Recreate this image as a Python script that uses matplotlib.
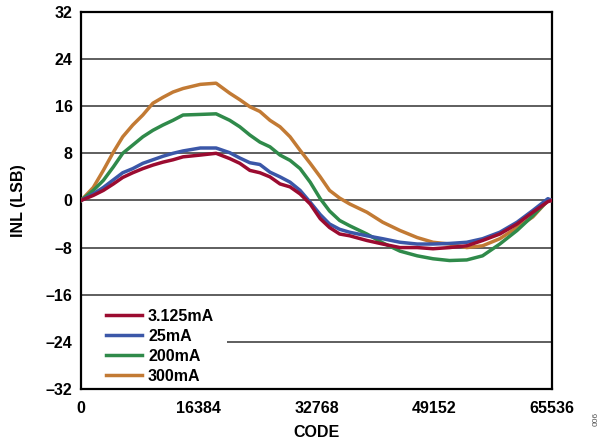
#!/usr/bin/env python3
"""INL 与 CODE 的关系曲线（四种满量程电流）。"""

import matplotlib

matplotlib.use("Agg")
import matplotlib.pyplot as plt
from matplotlib.patches import Rectangle

# 横轴采样点（CODE）
code = [0, 1700, 3100, 4500, 5800, 7200, 8600, 10000, 11400, 12800,
        14200, 16600, 18800, 20700, 22100, 23500, 24900, 26300, 27700,
        29100, 30500, 31900, 33300, 34600, 36000, 37400, 39800, 42000,
        44400, 46800, 49000, 51300, 53700, 55900, 58300, 60700, 62900,
        65000, 65535]

# 各电流下的 INL (LSB)
inl_3125 = [0, 0.85, 1.7, 2.8, 3.9, 4.7, 5.4, 6.0, 6.5, 6.9,
            7.4, 7.7, 8.0, 7.1, 6.3, 5.1, 4.7, 4.0, 2.8,
            2.3, 1.1, -0.6, -3.1, -4.6, -5.7, -6.0, -6.8, -7.4,
            -8.0, -8.0, -8.2, -8.0, -7.7, -6.8, -5.7, -4.0, -2.0,
            -0.2, 0]
inl_25 = [0, 1.1, 2.2, 3.5, 4.7, 5.4, 6.3, 6.9, 7.5, 8.0,
          8.4, 8.9, 8.9, 8.1, 7.2, 6.4, 6.1, 4.8, 4.0,
          3.1, 1.7, -0.3, -2.4, -4.0, -4.9, -5.4, -6.0, -6.5,
          -7.1, -7.4, -7.4, -7.3, -7.1, -6.5, -5.4, -3.7, -1.7,
          0.3, 0]
inl_200 = [0, 1.7, 3.4, 5.7, 8.0, 9.4, 10.8, 11.9, 12.8, 13.6,
           14.5, 14.6, 14.7, 13.6, 12.5, 11.1, 9.9, 9.1, 7.7,
           6.8, 5.4, 3.1, 0.3, -1.8, -3.4, -4.3, -5.7, -7.2,
           -8.6, -9.4, -9.9, -10.2, -10.1, -9.4, -7.4, -5.1, -2.6,
           0, 0]
inl_300 = [0, 2.2, 5.1, 8.2, 10.8, 12.8, 14.5, 16.5, 17.5, 18.4,
           19.0, 19.7, 19.9, 18.2, 17.1, 15.9, 15.1, 13.6, 12.5,
           10.8, 8.5, 6.3, 4.0, 1.7, 0.4, -0.6, -2.0, -3.7,
           -5.1, -6.3, -7.1, -7.4, -8.0, -7.7, -6.5, -4.6, -2.8,
           0, 0]

labels = ["3.125mA", "25mA", "200mA", "300mA"]
colors = ["#9B0B30", "#3B57A8", "#2F8A4A", "#C27A34"]

x_ticks = [0, 16384, 32768, 49152, 65536]
y_ticks = [-32, -24, -16, -8, 0, 8, 16, 24, 32]
y_tick_labels = ["–32", "–24", "–16", "–8", "0", "8", "16", "24", "32"]

plt.rcParams["font.family"] = ["Liberation Sans", "DejaVu Sans"]
plt.rcParams["font.weight"] = "bold"

fig = plt.figure(figsize=(6.05, 4.41), dpi=100)
ax = fig.add_axes([0.134, 0.118, 0.778, 0.855])

series = [inl_3125, inl_25, inl_200, inl_300]
handles = []
for i in range(3, -1, -1):
    (ln,) = ax.plot(code, series[i], color=colors[i], linewidth=2.5,
                    label=labels[i], zorder=3 + (3 - i))
    handles.append(ln)
handles = handles[::-1]

ax.set_xlim(0, 65536)
ax.set_ylim(-32, 32)
ax.set_xticks(x_ticks)
ax.set_xticklabels([str(t) for t in x_ticks])
ax.set_yticks(y_ticks)
ax.set_yticklabels(y_tick_labels)
ax.tick_params(length=0, labelsize=11.5)
ax.tick_params(axis="x", pad=9)
ax.tick_params(axis="y", pad=6)
for lbl in ax.get_xticklabels() + ax.get_yticklabels():
    lbl.set_fontweight("bold")

ax.yaxis.grid(True, color="#333333", linewidth=1.1)
ax.set_axisbelow(True)
for sp in ax.spines.values():
    sp.set_linewidth(1.6)
    sp.set_color("black")

ax.set_xlabel("CODE", fontsize=11.5, fontweight="bold", labelpad=6)
ax.set_ylabel("INL (LSB)", fontsize=11.5, fontweight="bold", labelpad=14)

# 图例底色（遮住网格线）
ax.add_patch(Rectangle((0, 0), 0.31, 0.236, transform=ax.transAxes,
                       facecolor="white", edgecolor="none", zorder=2))
leg = ax.legend(handles, labels, loc="upper left", bbox_to_anchor=(0.053, 0.213),
                borderaxespad=0, borderpad=0, frameon=False,
                prop={"size": 11.5, "weight": "bold"}, handlelength=2.25,
                handletextpad=0.38, labelspacing=0.32)
leg.set_zorder(10)

fig.text(0.986, 0.05, "006", rotation=90, fontsize=6, color="#555555",
         ha="center", va="center", fontweight="normal")

fig.savefig("out.png", dpi=100)
plt.close(fig)
